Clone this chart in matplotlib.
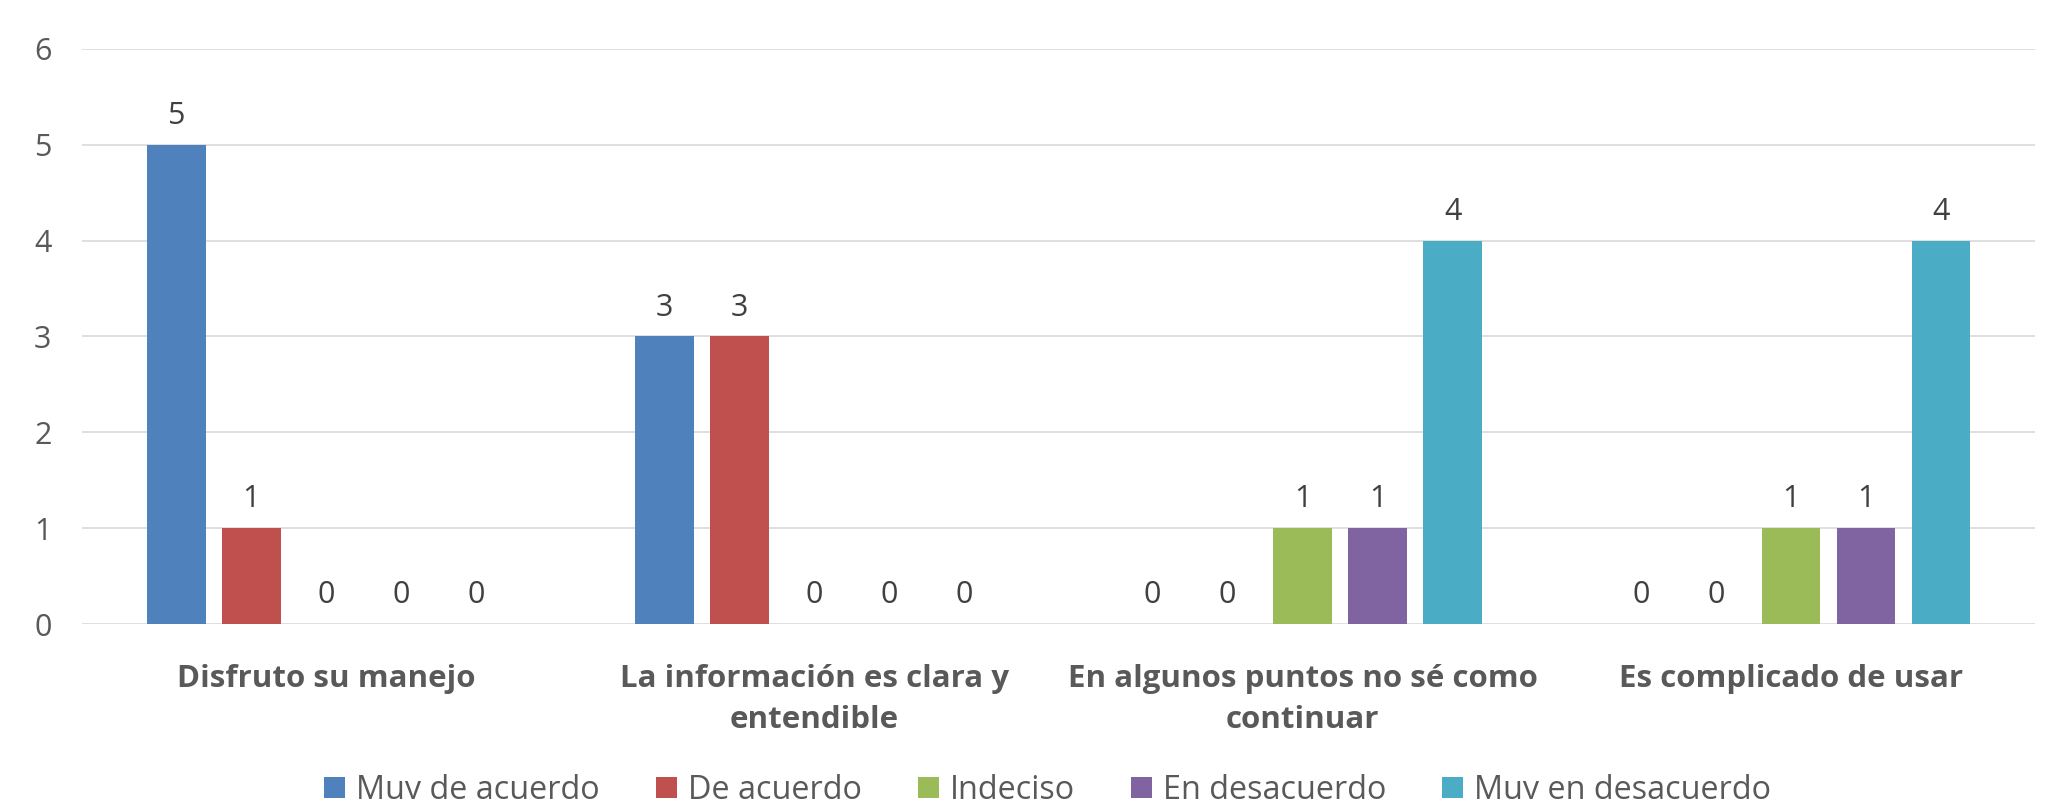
import numpy as np
import matplotlib
matplotlib.use('Agg')
import matplotlib.pyplot as plt
from matplotlib.patches import Patch

plt.rcParams['font.family'] = ['Open Sans', 'DejaVu Sans']

# Data
categories = [
    'Disfruto su manejo',
    'La información es clara y\nentendible',
    'En algunos puntos no sé como\ncontinuar',
    'Es complicado de usar',
]
series_names = ['Muy de acuerdo', 'De acuerdo', 'Indeciso', 'En desacuerdo', 'Muy en desacuerdo']
muy_de_acuerdo = [5, 3, 0, 0]
de_acuerdo = [1, 3, 0, 0]
indeciso = [0, 0, 1, 1]
en_desacuerdo = [0, 0, 1, 1]
muy_en_desacuerdo = [0, 0, 4, 4]
y_ticks = [0, 1, 2, 3, 4, 5, 6]

series_values = [muy_de_acuerdo, de_acuerdo, indeciso, en_desacuerdo, muy_en_desacuerdo]
colors = ['#4F81BD', '#C0504D', '#9BBB59', '#8064A2', '#4BACC6']

fig = plt.figure(figsize=(20.57, 7.99), dpi=100)
ax = fig.add_axes([0.0399, 0.219, 0.9494, 0.7198])

x = np.arange(len(categories))
bar_w = 0.1202
pitch = 0.1536

for i, (name, vals, c) in enumerate(zip(series_names, series_values, colors)):
    pos = x + (i - 2) * pitch
    bars = ax.bar(pos, vals, width=bar_w, color=c, label=name, zorder=3)
    for b, v in zip(bars, vals):
        ax.annotate(str(v), (b.get_x() + b.get_width() / 2, v),
                    xytext=(0, 10), textcoords='offset points',
                    ha='center', va='bottom', fontsize=22, color='#404040')

ax.set_xlim(-0.5, len(categories) - 0.5)
ax.set_ylim(0, 6)
ax.set_yticks(y_ticks)
ax.set_xticks(x)
ax.set_xticklabels(categories, fontsize=22.5, fontweight='bold', color='#595959',
                   linespacing=1.47)
ax.tick_params(axis='x', length=0, pad=29)
ax.tick_params(axis='y', length=0, pad=22, labelsize=22, labelcolor='#595959')

ax.grid(axis='y', color='#D9D9D9', linewidth=1.2, zorder=0)
for s in ax.spines.values():
    s.set_visible(False)

handles = [Patch(facecolor=c, label=n) for n, c in zip(series_names, colors)]
fig.legend(handles=handles, loc='center', bbox_to_anchor=(0.5093, 0.011),
           ncol=5, frameon=False, fontsize=23.3, labelcolor='#595959',
           handlelength=0.65, handleheight=0.65, handletextpad=0.34,
           columnspacing=1.73)

fig.savefig('out.png', dpi=100)
